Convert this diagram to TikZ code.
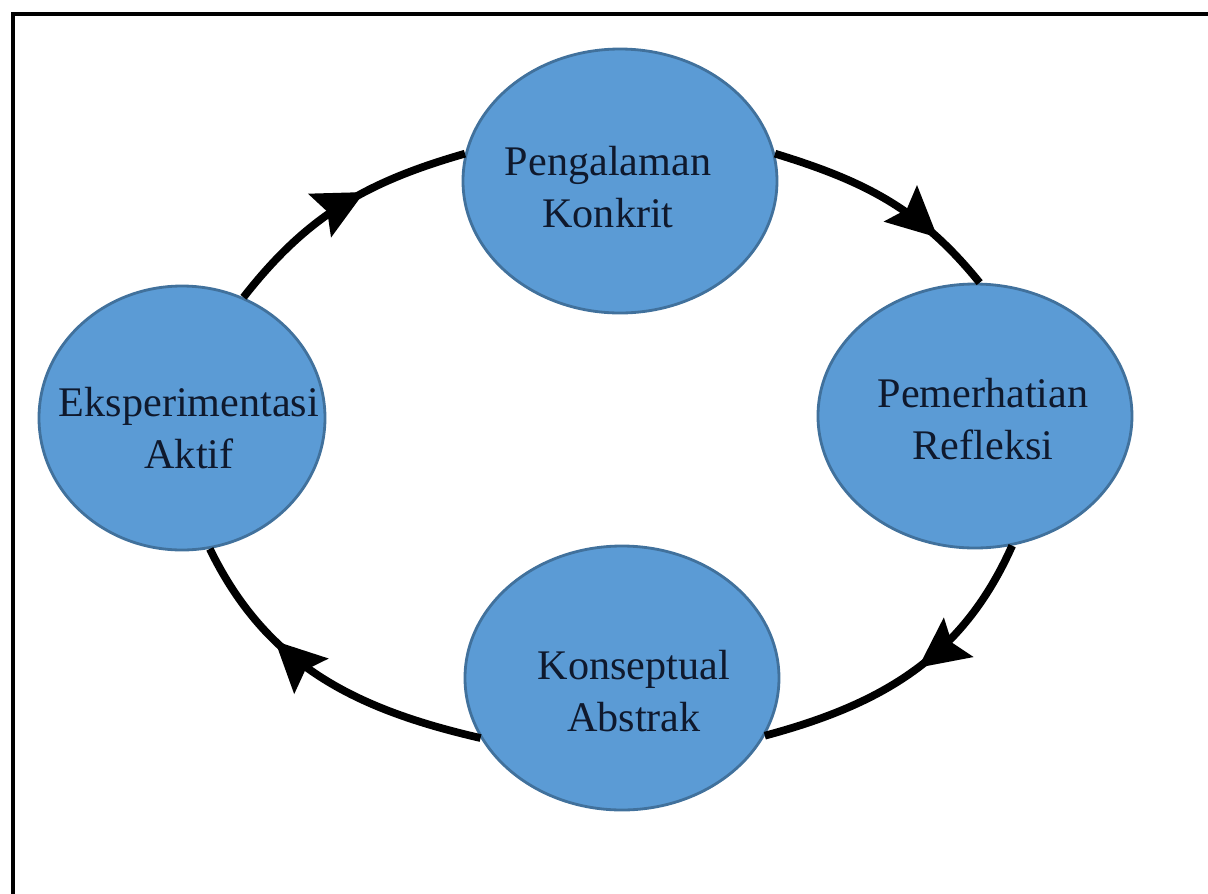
\documentclass[tikz,border=0pt]{standalone}
\usepackage{fontspec}
\setmainfont{Liberation Serif}
\usepackage{xcolor}
\usetikzlibrary{shapes.geometric}
\usetikzlibrary{arrows.meta}
\usetikzlibrary{decorations.markings}

\definecolor{biruIsi}{RGB}{91,155,213}
\definecolor{biruGaris}{RGB}{65,113,156}
\definecolor{tinta}{RGB}{15,25,45}

\begin{document}
\begin{tikzpicture}[
        tahap/.style={ellipse,draw=biruGaris,fill=biruIsi,line width=0.8pt,
            minimum width=3.14cm,minimum height=2.64cm,inner sep=0pt},
        teks/.style={align=center,text=tinta,inner sep=0pt,
            font=\fontsize{12}{14.8}\selectfont},
        siklus/.style={line width=2.2pt,
            decoration={markings,mark=at position #1 with
                {\arrow{Stealth[length=5mm,width=4.8mm,inset=0.8mm]}}},
            postaction={decorate}}
    ]
        \useasboundingbox (0,0) rectangle (12.08,-8.94);
        \draw[line width=1pt] (0.13,-8.94) -- (0.13,-0.14) -- (12.08,-0.14);

        \node[tahap,label={[teks,xshift=-0.12cm,yshift=-0.06cm]center:Pengalaman\\Konkrit}]
            (pengalaman) at (6.20,-1.81) {};
        \node[tahap,label={[teks,xshift=0.08cm,yshift=-0.03cm]center:Pemerhatian\\Refleksi}]
            (pemerhatian) at (9.75,-4.16) {};
        \node[tahap,label={[teks,xshift=0.12cm,yshift=-0.13cm]center:Konseptual\\Abstrak}]
            (konseptual) at (6.22,-6.78) {};
        \node[tahap,minimum width=2.86cm,label={[teks,xshift=0.07cm,yshift=-0.10cm]center:Eksperimentasi\\Aktif}]
            (eksperimen) at (1.82,-4.18) {};

        \draw[siklus=0.60] (eksperimen.63) to[out=52,in=196] (pengalaman.170);
        \draw[siklus=0.75] (pengalaman.10) to[out=-17,in=129] (pemerhatian.88);
        \draw[siklus=0.48] (pemerhatian.-74) to[out=246,in=15] (konseptual.-22);
        \draw[siklus=0.67] (konseptual.-157) to[out=167,in=296] (eksperimen.-78);
    \end{tikzpicture}
\end{document}
